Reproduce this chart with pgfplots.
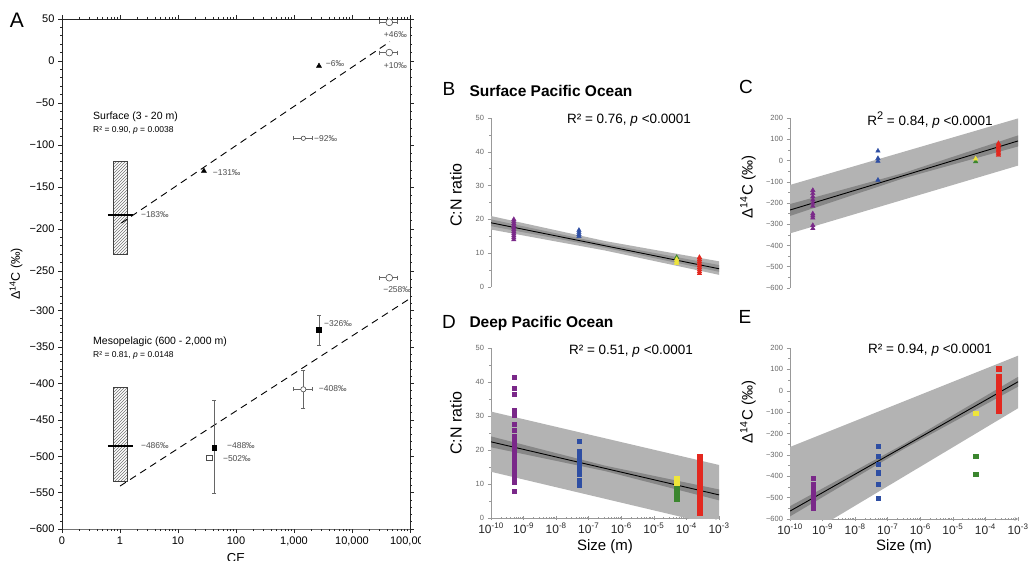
\documentclass[border=0pt]{standalone}
\usepackage{fontspec}
\setmainfont{Liberation Sans}
\usepackage{pgfplots}
\pgfplotsset{compat=1.18}
\usetikzlibrary{patterns}

\definecolor{cpurple}{HTML}{7A2889}
\definecolor{cblue}{HTML}{2E4EA3}
\definecolor{cgreen}{HTML}{3B862E}
\definecolor{cyellow}{HTML}{EEE53A}
\definecolor{cred}{HTML}{E3281F}
\definecolor{bandout}{HTML}{B3B3B3}
\definecolor{bandin}{HTML}{878787}

\newcommand{\myfsz}[1]{\fontsize{#1}{#1}\selectfont}
\tikzset{lbl/.style={font=\myfsz{8.5}, text=black!70, inner sep=1pt}}

% x values are log10 of CE (panel A) and log10 of size in m (panels B-E)
\pgfplotsset{
  panelA/.style={
    scale only axis, width=348pt,
    xmin=-1, xmax=5,
    axis line style={black!85, line width=0.9pt},
    tick style={black!85, line width=0.6pt},
    tick align=outside,
    major tick length=4pt, minor tick length=2pt,
    tick label style={font=\myfsz{11}},
  },
  sizeaxis/.style={
    scale only axis, width=228pt,
    xmin=-10, xmax=-3,
    axis y line=left,
    axis line style={-, gray!80, line width=0.6pt},
    tick style={gray!80, line width=0.5pt},
    tick align=outside, major tick length=3.5pt, minor tick length=2pt,
    yticklabel style={font=\myfsz{7.5}, text=black!60},
    minor y tick num=1,
  },
  nox/.style={axis x line=none, xtick=\empty},
  withx/.style={axis x line=bottom,
    xtick={-10,-9,-8,-7,-6,-5,-4,-3},
    xticklabels={10\textsuperscript{-10},10\textsuperscript{-9},10\textsuperscript{-8},10\textsuperscript{-7},10\textsuperscript{-6},10\textsuperscript{-5},10\textsuperscript{-4},10\textsuperscript{-3}},
    minor xtick={-9.699,-9.523,-9.398,-9.301,-9.222,-9.155,-9.097,-9.046,
      -8.699,-8.523,-8.398,-8.301,-8.222,-8.155,-8.097,-8.046,
      -7.699,-7.523,-7.398,-7.301,-7.222,-7.155,-7.097,-7.046,
      -6.699,-6.523,-6.398,-6.301,-6.222,-6.155,-6.097,-6.046,
      -5.699,-5.523,-5.398,-5.301,-5.222,-5.155,-5.097,-5.046,
      -4.699,-4.523,-4.398,-4.301,-4.222,-4.155,-4.097,-4.046,
      -3.699,-3.523,-3.398,-3.301,-3.222,-3.155,-3.097,-3.046},
    xticklabel style={font=\myfsz{12}, text=black!85}},
  tri/.style={only marks, mark=triangle*, mark size=2.6pt},
  sq/.style={only marks, mark=square*, mark size=2.1pt},
}

\begin{document}
\begin{tikzpicture}[x=1pt,y=1pt]
\useasboundingbox (0,0) rectangle (1035,560);
\clip (0,0) rectangle (1035,560);

% ---------------- panel A ----------------
\begin{scope}
\clip (0,0) rectangle (420,560);

% frame with the CE axis
\begin{axis}[panelA, at={(62pt,31pt)}, anchor=south west, height=510pt,
  hide y axis, ymin=0, ymax=1,
  xtick={-1,0,1,2,3,4,5},
  xticklabels={0,1,10,100,{1,000},{10,000},{100,000}},
  minor xtick={-0.699,-0.523,-0.398,-0.301,-0.222,-0.155,-0.097,-0.046,
    0.301,0.477,0.602,0.699,0.778,0.845,0.903,0.954,
    1.301,1.477,1.602,1.699,1.778,1.845,1.903,1.954,
    2.301,2.477,2.602,2.699,2.778,2.845,2.903,2.954,
    3.301,3.477,3.602,3.699,3.778,3.845,3.903,3.954,
    4.301,4.477,4.602,4.699,4.778,4.845,4.903,4.954}]
\addplot[draw=none] coordinates {(0,0.5)};
\end{axis}

% surface part
\begin{axis}[panelA, at={(62pt,263.8pt)}, anchor=south west, height=277.2pt,
  hide x axis, ymin=-280, ymax=50,
  ytick={-250,-200,...,50}, yticklabels={−250,−200,−150,−100,−50,0,50},
  minor ytick={-270,-260,...,40}]
\addplot[draw=black!75, line width=0.6pt, pattern=north east lines, pattern color=black!55]
  coordinates {(-0.119,-120) (0.121,-120) (0.121,-230) (-0.119,-230) (-0.119,-120)};
\addplot[black, line width=1.6pt] coordinates {(-0.208,-183) (0.223,-183)};
\addplot[black, line width=0.9pt, dash pattern=on 7pt off 5pt] coordinates {(0.021,-193) (4.653,23)};
\addplot[black!60, line width=0.6pt, mark=|, mark size=2pt] coordinates {(2.98,-92) (3.31,-92)};
\addplot[black!60, line width=0.6pt, mark=|, mark size=2pt] coordinates {(4.47,46) (4.776,46)};
\addplot[black!60, line width=0.6pt, mark=|, mark size=2pt] coordinates {(4.47,10) (4.776,10)};
\addplot[black!60, line width=0.6pt, mark=|, mark size=2pt] coordinates {(4.47,-258) (4.776,-258)};
\addplot[tri, black, mark size=3pt] coordinates {(1.447,-131) (3.431,-6)};
\addplot[only marks, mark=*, mark size=2.2pt, mark options={fill=white, draw=black!70, line width=0.6pt}]
  coordinates {(3.161,-92)};
\addplot[only marks, mark=*, mark size=3.4pt, mark options={fill=white, draw=black!70, line width=0.6pt}]
  coordinates {(4.643,46) (4.643,10) (4.643,-258)};
\node[lbl, anchor=west] at (0.342,-183) {−183‰};
\node[lbl, anchor=west] at (1.58,-133) {−131‰};
\node[lbl, anchor=west] at (3.531,-3) {−6‰};
\node[lbl, anchor=west] at (3.328,-92) {−92‰};
\node[lbl, anchor=west] at (4.531,32) {+46‰};
\node[lbl, anchor=west] at (4.531,-6) {+10‰};
\node[lbl, anchor=west] at (4.519,-272) {−258‰};
\end{axis}

% mesopelagic part
\begin{axis}[panelA, at={(62pt,31pt)}, anchor=south west, height=232.8pt,
  hide x axis, ymin=-600, ymax=-280,
  ytick={-600,-550,...,-300}, yticklabels={−600,−550,−500,−450,−400,−350,−300},
  minor ytick={-590,-580,...,-280}]
\addplot[draw=black!75, line width=0.6pt, pattern=north east lines, pattern color=black!55]
  coordinates {(-0.119,-405) (0.121,-405) (0.121,-535) (-0.119,-535) (-0.119,-405)};
\addplot[black, line width=1.6pt] coordinates {(-0.208,-486) (0.223,-486)};
\addplot[black, line width=0.9pt, dash pattern=on 7pt off 5pt] coordinates {(0,-541) (4.964,-285)};
\addplot[black!60, line width=0.6pt, mark=-, mark size=2pt] coordinates {(1.623,-423) (1.623,-551)};
\addplot[black!60, line width=0.6pt, mark=-, mark size=2pt] coordinates {(3.431,-306) (3.431,-347)};
\addplot[black!60, line width=0.6pt, mark=-, mark size=2pt] coordinates {(3.161,-382) (3.161,-434)};
\addplot[black!60, line width=0.6pt, mark=|, mark size=2pt] coordinates {(2.98,-408) (3.31,-408)};
\addplot[only marks, mark=square*, mark size=2.8pt, mark options={fill=white, draw=black!70, line width=0.6pt}]
  coordinates {(1.544,-502)};
\addplot[sq, black, mark size=2.4pt] coordinates {(1.623,-488) (3.431,-326)};
\addplot[only marks, mark=*, mark size=2.6pt, mark options={fill=white, draw=black!70, line width=0.6pt}]
  coordinates {(3.161,-408)};
\node[lbl, anchor=west] at (0.342,-486) {−486‰};
\node[lbl, anchor=west] at (1.826,-485) {−488‰};
\node[lbl, anchor=west] at (1.756,-503) {−502‰};
\node[lbl, anchor=west] at (3.5,-318) {−326‰};
\node[lbl, anchor=west] at (3.41,-407) {−408‰};
\end{axis}

\node[font=\myfsz{21}] at (17,540) {A};
\node[rotate=90, font=\myfsz{12.5}] at (16,286) {Δ\textsuperscript{14}C (‰)};
\node[anchor=north, inner sep=0pt, font=\myfsz{13}] at (236,7) {CE};
\node[anchor=west, font=\myfsz{10.5}, inner sep=0pt] at (93,443) {Surface (3 - 20 m)};
\node[anchor=west, font=\myfsz{8.5}, inner sep=0pt] at (93,430) {R² = 0.90, \textit{p} = 0.0038};
\node[anchor=west, font=\myfsz{10.5}, inner sep=0pt] at (93,218) {Mesopelagic (600 - 2,000 m)};
\node[anchor=west, font=\myfsz{8.5}, inner sep=0pt] at (93,205) {R² = 0.81, \textit{p} = 0.0148};
\end{scope}

% ---------------- panel B ----------------
\begin{axis}[sizeaxis, nox, at={(491pt,273pt)}, anchor=south west, height=169pt,
  ymin=0, ymax=50, ytick={0,10,...,50}, yticklabels={0,10,20,30,40,50}]
\addplot[fill=bandout, draw=none] coordinates {(-10,21) (-6.5,13.6) (-3,7.6) (-3,3.6) (-6.5,10.8) (-10,17)};
\addplot[fill=bandin!70!bandout, draw=none] coordinates {(-10,20) (-6.5,12.8) (-3,6.5) (-3,4.5) (-6.5,11.6) (-10,18)};
\addplot[black, line width=0.9pt] coordinates {(-10,19) (-3,5.4)};
\addplot[tri, cpurple] coordinates {(-9.3,14) (-9.3,14.6) (-9.3,15.2) (-9.3,15.8) (-9.3,16.4) (-9.3,17) (-9.3,17.6) (-9.3,18.2) (-9.3,18.8) (-9.3,19.4) (-9.3,20)};
\addplot[tri, cblue] coordinates {(-7.3,15) (-7.3,15.6) (-7.3,16.2) (-7.3,16.8)};
\addplot[tri, cgreen] coordinates {(-4.3,8.8)};
\addplot[tri, cyellow] coordinates {(-4.3,7) (-4.3,7.6) (-4.3,8.2)};
\addplot[tri, cred] coordinates {(-3.6,4) (-3.6,4.6) (-3.6,5.2) (-3.6,5.8) (-3.6,6.4) (-3.6,7) (-3.6,7.6) (-3.6,8.2) (-3.6,8.8)};
\end{axis}

% ---------------- panel C ----------------
\begin{axis}[sizeaxis, nox, at={(790pt,272pt)}, anchor=south west, height=170pt,
  ymin=-600, ymax=200, ytick={-600,-500,...,200},
  yticklabels={−600,−500,−400,−300,−200,−100,0,100,200}]
\addplot[fill=bandout, draw=none] coordinates {(-10,-115) (-3,198) (-3,-24) (-10,-343)};
\addplot[fill=bandin, draw=none] coordinates {(-10,-205) (-6.5,-58) (-3,118) (-3,66) (-6.5,-83) (-10,-261)};
\addplot[black, line width=0.9pt] coordinates {(-10,-233) (-3,92)};
\addplot[tri, cpurple] coordinates {(-9.3,-140) (-9.3,-155) (-9.3,-170) (-9.3,-185) (-9.3,-200) (-9.3,-215) (-9.3,-250) (-9.3,-260) (-9.3,-270) (-9.3,-305) (-9.3,-320)};
\addplot[tri, cblue] coordinates {(-7.3,45) (-7.3,10) (-7.3,-3) (-7.3,-92)};
\addplot[tri, cgreen] coordinates {(-4.3,-5)};
\addplot[tri, cyellow] coordinates {(-4.3,8)};
\addplot[tri, cred] coordinates {(-3.6,25) (-3.6,32) (-3.6,39) (-3.6,46) (-3.6,53) (-3.6,60) (-3.6,67) (-3.6,74) (-3.6,81)};
\end{axis}

% ---------------- panel D ----------------
\begin{axis}[sizeaxis, withx, at={(491pt,42pt)}, anchor=south west, height=170pt,
  ymin=0, ymax=50, ytick={0,10,...,50}, yticklabels={0,10,20,30,40,50}]
\addplot[fill=bandout, draw=none] coordinates {(-10,31.3) (-3,15.6) (-3,-2.3) (-10,13.6)};
\addplot[fill=bandin, draw=none] coordinates {(-10,24) (-6.5,15.4) (-3,8.4) (-3,5.2) (-6.5,13.8) (-10,20.8)};
\addplot[black, line width=0.9pt] coordinates {(-10,22.4) (-3,6.8)};
\addplot[sq, cpurple] coordinates {(-9.3,41.4) (-9.3,38.1) (-9.3,36.5) (-9.3,31.8) (-9.3,30.3) (-9.3,27.6) (-9.3,25.9) (-9.3,24) (-9.3,23) (-9.3,22) (-9.3,21) (-9.3,20) (-9.3,19) (-9.3,18) (-9.3,17) (-9.3,16) (-9.3,15) (-9.3,14) (-9.3,13) (-9.3,11.5) (-9.3,10.5) (-9.3,8)};
\addplot[sq, cblue] coordinates {(-7.3,22.7) (-7.3,19.5) (-7.3,18.5) (-7.3,17.5) (-7.3,16.5) (-7.3,15.5) (-7.3,14.5) (-7.3,13) (-7.3,11) (-7.3,9.7)};
\addplot[sq, cyellow] coordinates {(-4.3,10.2) (-4.3,11) (-4.3,11.8)};
\addplot[sq, cgreen] coordinates {(-4.3,5.5) (-4.3,6.3) (-4.3,7.1) (-4.3,7.9) (-4.3,8.7)};
\addplot[sq, cred, mark size=2.5pt] coordinates {(-3.6,1.5) (-3.6,2.25) (-3.6,3) (-3.6,3.75) (-3.6,4.5) (-3.6,5.25) (-3.6,6) (-3.6,6.75) (-3.6,7.5) (-3.6,8.25) (-3.6,9) (-3.6,9.75) (-3.6,10.5) (-3.6,11.25) (-3.6,12) (-3.6,12.75) (-3.6,13.5) (-3.6,14.25) (-3.6,15) (-3.6,15.75) (-3.6,16.5) (-3.6,17.25) (-3.6,18)};
\end{axis}

% ---------------- panel E ----------------
\begin{axis}[sizeaxis, withx, at={(790pt,41pt)}, anchor=south west, height=171pt,
  ymin=-600, ymax=200, ytick={-600,-500,...,200},
  yticklabels={−600,−500,−400,−300,−200,−100,0,100,200}]
\addplot[fill=bandout, draw=none] coordinates {(-10,-263) (-3,164) (-3,-82) (-10,-720)};
\addplot[fill=bandin, draw=none] coordinates {(-10,-540) (-6.5,-249) (-3,65) (-3,19) (-6.5,-272) (-10,-588)};
\addplot[black, line width=0.9pt] coordinates {(-10,-563) (-3,42)};
\addplot[sq, cpurple] coordinates {(-9.3,-410) (-9.3,-438) (-9.3,-446) (-9.3,-454) (-9.3,-462) (-9.3,-470) (-9.3,-478) (-9.3,-486) (-9.3,-494) (-9.3,-502) (-9.3,-510) (-9.3,-518) (-9.3,-526) (-9.3,-534) (-9.3,-542) (-9.3,-550)};
\addplot[sq, cblue] coordinates {(-7.3,-258) (-7.3,-307) (-7.3,-345) (-7.3,-383) (-7.3,-436) (-7.3,-503)};
\addplot[sq, cyellow] coordinates {(-4.3,-106)};
\addplot[sq, cgreen] coordinates {(-4.3,-307) (-4.3,-390)};
\addplot[sq, cred, mark size=2.5pt] coordinates {(-3.6,105) (-3.6,65) (-3.6,55) (-3.6,45) (-3.6,35) (-3.6,25) (-3.6,15) (-3.6,5) (-3.6,-5) (-3.6,-15) (-3.6,-25) (-3.6,-35) (-3.6,-45) (-3.6,-55) (-3.6,-65) (-3.6,-75) (-3.6,-85) (-3.6,-95)};
\end{axis}

% titles and labels of B-E
\node[font=\myfsz{19}] at (449,471) {B};
\node[anchor=west, font=\myfsz{15.5}\bfseries] at (466,469) {Surface Pacific Ocean};
\node[font=\myfsz{19}] at (746,473) {C};
\node[font=\myfsz{19}] at (449,238) {D};
\node[anchor=west, font=\myfsz{15.5}\bfseries] at (466,237) {Deep Pacific Ocean};
\node[font=\myfsz{19}] at (745,243) {E};

\node[font=\myfsz{13.5}] at (629,440) {R² = 0.76, \textit{p} <0.0001};
\node[font=\myfsz{13.5}] at (930,440) {R\raisebox{0.4em}{\myfsz{11}2} = 0.84, \textit{p} <0.0001};
\node[font=\myfsz{13.5}] at (631,209) {R² = 0.51, \textit{p} <0.0001};
\node[font=\myfsz{13.5}] at (930,210) {R² = 0.94, \textit{p} <0.0001};

\node[rotate=90, font=\myfsz{16}] at (456,365) {C:N ratio};
\node[rotate=90, font=\myfsz{16}] at (456,137) {C:N ratio};
\node[rotate=90, font=\myfsz{15}] at (748,373) {Δ\textsuperscript{14}C (‰)};
\node[rotate=90, font=\myfsz{15}] at (748,148) {Δ\textsuperscript{14}C (‰)};

\node[font=\myfsz{15}] at (605,13) {Size (m)};
\node[font=\myfsz{15}] at (904,13) {Size (m)};
\end{tikzpicture}
\end{document}
